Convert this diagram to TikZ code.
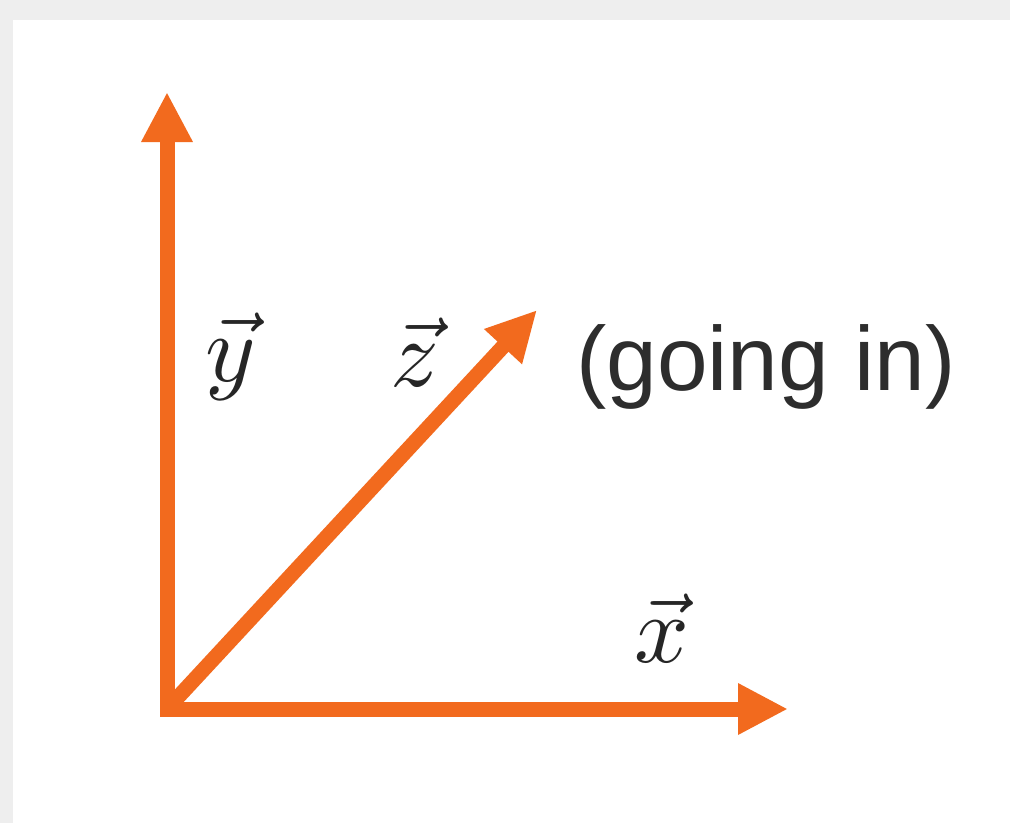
\documentclass[tikz,border=0pt]{standalone}
\usepackage{fontspec}
\setmainfont{Liberation Sans}
\usetikzlibrary{arrows.meta}
\definecolor{axisorange}{RGB}{242,106,30}
\definecolor{textgrey}{RGB}{45,45,45}
\definecolor{edgegrey}{RGB}{238,238,238}
\tikzset{
  axis/.style={draw=axisorange, line width=15pt, -{Triangle[length=50pt,width=48pt]}},
  veclabel/.style={anchor=base, scale=9.6, inner sep=0pt, text=black!85},
  note/.style={anchor=base west, inner sep=0pt, text=textgrey, font=\fontsize{91}{100}\selectfont}
}
\begin{document}
\begin{tikzpicture}[x=1pt,y=-1pt]
\fill[edgegrey] (0,0) rectangle (1010,823);
\fill[white] (13,20) rectangle (1010,823);
\useasboundingbox (0,0) rectangle (1010,823);
\coordinate (o) at (167,709);
\coordinate (ostart) at (167,716);
\coordinate (ostartx) at (160,709);
\coordinate (xt) at (788,709);
\coordinate (yt) at (167,92);
\coordinate (zt) at (537,310);
\draw[axis] (o) -- (zt);
\draw[axis] (ostart) -- (yt);
\draw[axis] (ostartx) -- (xt);
\node[veclabel] (ylab) at (231,381) {$\vec{y}$};
\node[veclabel] (zlab) at (415,386) {$\vec{z}$};
\node[veclabel] (xlab) at (662,662) {$\vec{x}$};
\node[note] (going) at (576,390) {(going in)};
\end{tikzpicture}
\end{document}
